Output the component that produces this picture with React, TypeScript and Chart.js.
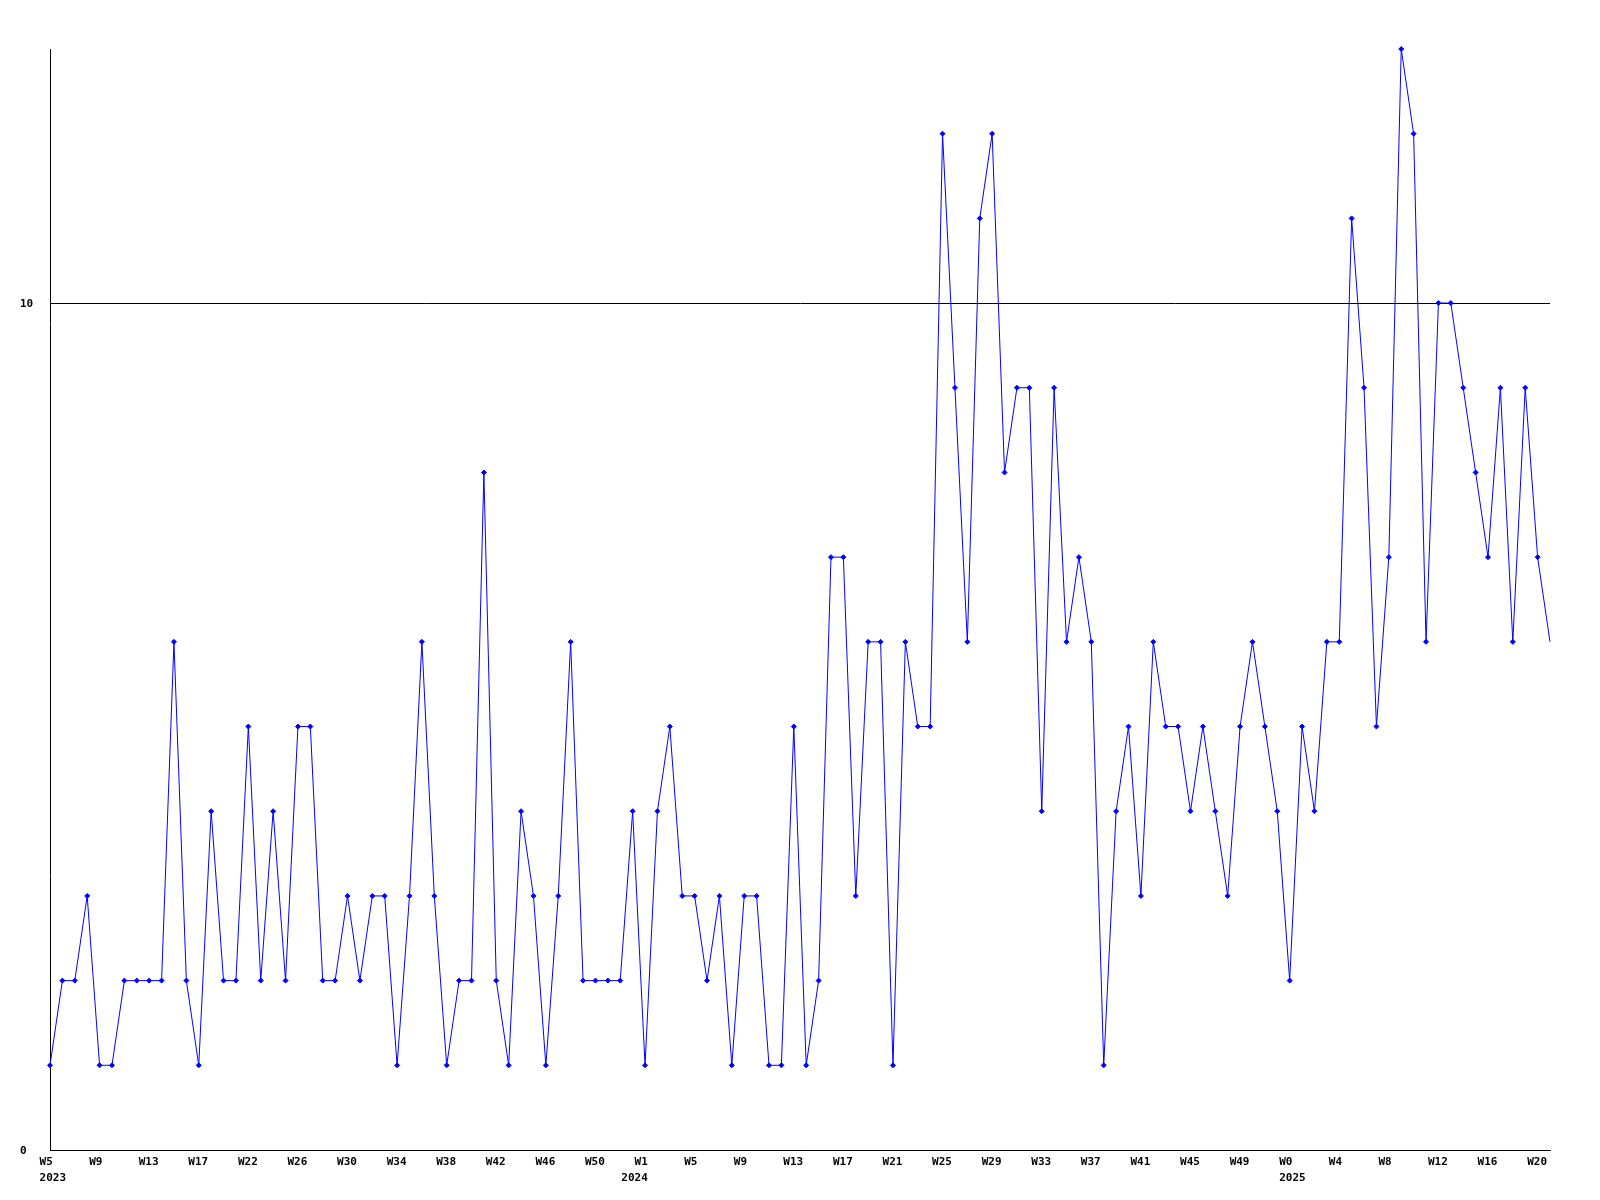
import React, { useEffect, useRef } from 'react';
import { Chart, registerables } from 'chart.js';

Chart.register(...registerables);

// Week labels per point (categories)
const weeks2023 = [
  'W5', 'W6', 'W7', 'W8', 'W9', 'W10', 'W11', 'W12', 'W13', 'W14', 'W15', 'W16', 'W17', 'W18', 'W19', 'W20',
  'W22', 'W23', 'W24', 'W25', 'W26', 'W27', 'W28', 'W29', 'W30', 'W31', 'W32', 'W33', 'W34', 'W35', 'W36', 'W37',
  'W38', 'W39', 'W40', 'W41', 'W42', 'W43', 'W44', 'W45', 'W46', 'W47', 'W48', 'W49', 'W50', 'W51', 'W52', 'W53',
];
const weeks2024 = [
  'W1', 'W2', 'W3', 'W4', 'W5', 'W6', 'W7', 'W8', 'W9', 'W10', 'W11', 'W12', 'W13', 'W14', 'W15', 'W16', 'W17',
  'W18', 'W19', 'W20', 'W21', 'W22', 'W23', 'W24', 'W25', 'W26', 'W27', 'W28', 'W29', 'W30', 'W31', 'W32', 'W33',
  'W34', 'W35', 'W36', 'W37', 'W38', 'W39', 'W40', 'W41', 'W42', 'W43', 'W44', 'W45', 'W46', 'W47', 'W48', 'W49',
  'W50', 'W51', 'W52',
];
const weeks2025 = [
  'W0', 'W1', 'W2', 'W3', 'W4', 'W5', 'W6', 'W7', 'W8', 'W9', 'W10', 'W11', 'W12', 'W13', 'W14', 'W15', 'W16',
  'W17', 'W18', 'W19', 'W20', 'W21',
];

// Series values per year
const values2023 = [
  1, 2, 2, 3, 1, 1, 2, 2, 2, 2, 6, 2, 1, 4, 2, 2, 5, 2, 4, 2, 5, 5, 2, 2,
  3, 2, 3, 3, 1, 3, 6, 3, 1, 2, 2, 8, 2, 1, 4, 3, 1, 3, 6, 2, 2, 2, 2, 4,
];
const values2024 = [
  1, 4, 5, 3, 3, 2, 3, 1, 3, 3, 1, 1, 5, 1, 2, 7, 7, 3, 6, 6, 1, 6, 5, 5, 12, 9,
  6, 11, 12, 8, 9, 9, 4, 9, 6, 7, 6, 1, 4, 5, 3, 6, 5, 5, 4, 5, 4, 3, 5, 6, 5, 4,
];
const values2025 = [
  2, 5, 4, 6, 6, 11, 9, 5, 7, 13, 12, 6, 10, 10, 9, 8, 7, 9, 6, 9, 7, 6,
];

const yearNames = ['2023', '2024', '2025'];
const yearLabelIndent = [2, 0, 2];
const yTickValues = [0, 10];
const yMin = 0;
const yMax = 13;
const labelEvery = 4;

export default function App() {
  const canvasRef = useRef<HTMLCanvasElement | null>(null);

  useEffect(() => {
    const canvas = canvasRef.current;
    if (!canvas) return;

    const labels = [...weeks2023, ...weeks2024, ...weeks2025];
    const values = [...values2023, ...values2024, ...values2025];
    const yearStarts: Record<number, { name: string; indent: number }> = {};
    let start = 0;
    [weeks2023, weeks2024, weeks2025].forEach((w, i) => {
      yearStarts[start] = { name: yearNames[i], indent: yearLabelIndent[i] };
      start += w.length;
    });

    const xFont = { family: '"DejaVu Sans Mono", monospace', size: 11, weight: 'bold' as const, lineHeight: '16px' };
    const yFont = { family: '"DejaVu Sans Mono", monospace', size: 11, weight: 'bold' as const, lineHeight: '14px' };
    const blue = '#0000ff';

    const chart = new Chart(canvas, {
      type: 'line',
      data: {
        labels,
        datasets: [
          {
            data: values,
            borderColor: blue,
            backgroundColor: blue,
            borderWidth: 1,
            tension: 0,
            pointStyle: 'rectRot',
            pointRadius: (ctx: any) => (ctx.dataIndex === values.length - 1 ? 0 : 2.5),
            pointBorderWidth: 1,
            pointBackgroundColor: blue,
            pointBorderColor: blue,
            clip: false as any,
          },
        ],
      },
      options: {
        animation: false,
        responsive: false,
        devicePixelRatio: 1,
        events: [],
        layout: { padding: { left: 20, top: 49, right: 50, bottom: 0 } },
        plugins: { legend: { display: false }, tooltip: { enabled: false } },
        scales: {
          x: {
            type: 'category',
            offset: false,
            grid: { display: false, drawTicks: false },
            border: { display: true, color: '#000', width: 1 },
            afterFit: (scale: any) => {
              scale.height = 50;
            },
            ticks: {
              autoSkip: false,
              maxRotation: 0,
              minRotation: 0,
              align: 'start',
              labelOffset: -23.7,
              padding: 4,
              color: '#000',
              font: xFont,
              callback: (_v: any, index: number) => {
                if (index % labelEvery !== 0) return '';
                const w = '  ' + labels[index];
                const y = yearStarts[index];
                if (y) return [w, ' '.repeat(y.indent) + y.name];
                return w;
              },
            },
          },
          y: {
            min: yMin,
            max: yMax,
            afterBuildTicks: (axis: any) => {
              axis.ticks = yTickValues.map((v) => ({ value: v }));
            },
            afterFit: (scale: any) => {
              scale.width = 30;
            },
            grid: { color: '#000', lineWidth: 1, drawTicks: false },
            border: { display: true, color: '#000', width: 1 },
            ticks: {
              crossAlign: 'far',
              padding: 0,
              labelOffset: 1,
              color: '#000',
              font: yFont,
            },
          },
        },
      },
    });

    return () => chart.destroy();
  }, []);

  return (
    <div style={{ position: 'absolute', left: 0, top: 0, width: 1600, height: 1200, background: '#fff' }}>
      <canvas ref={canvasRef} width={1600} height={1200} style={{ display: 'block' }} />
    </div>
  );
}
